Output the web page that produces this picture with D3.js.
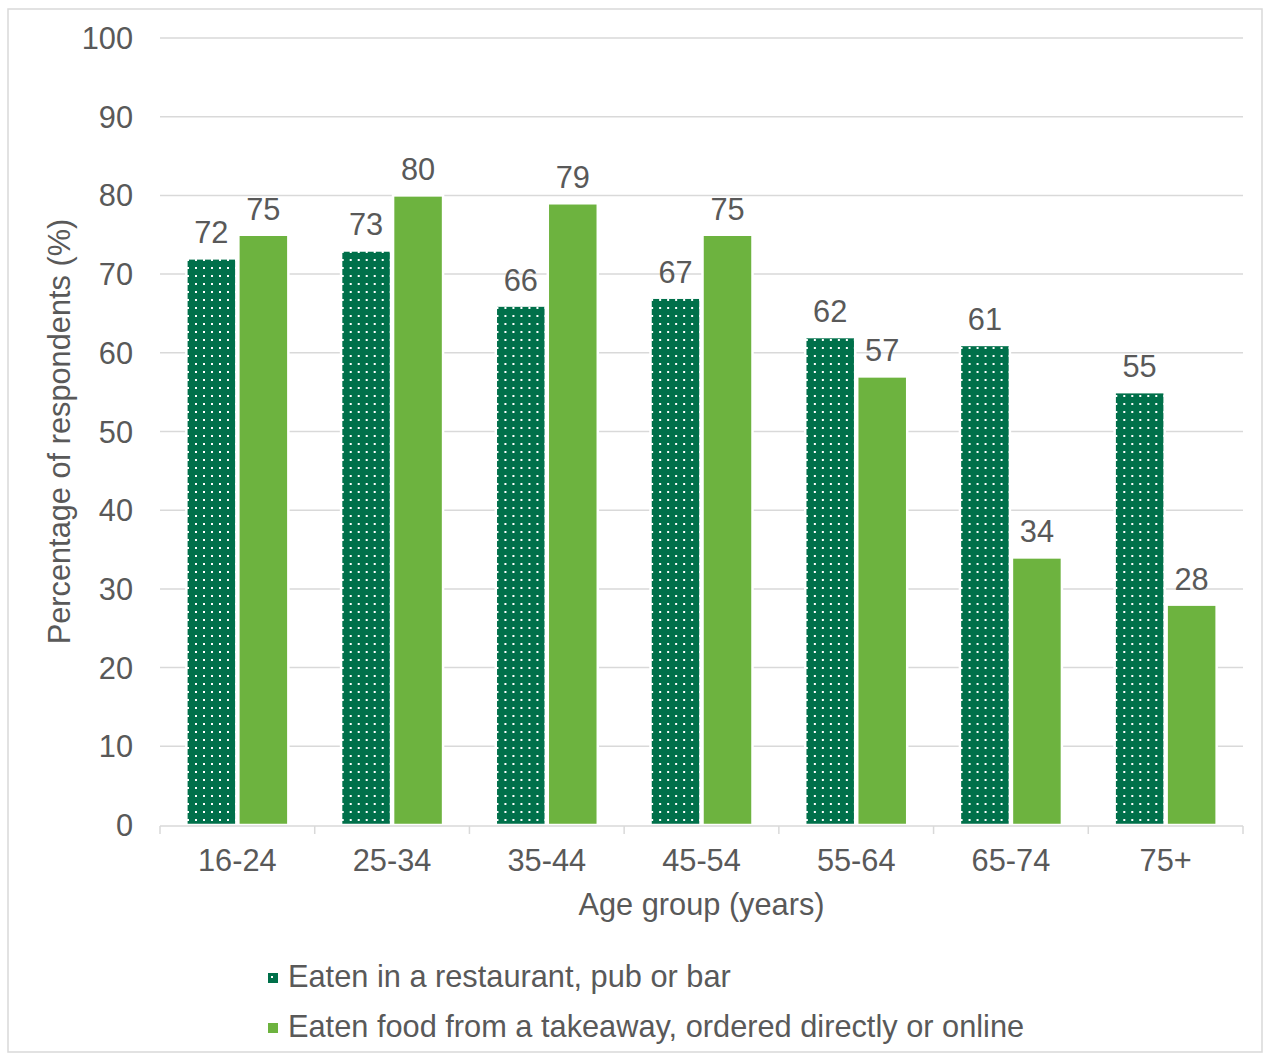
<!DOCTYPE html>
<html>
<head>
<meta charset="utf-8">
<script src="https://cdn.jsdelivr.net/npm/d3@7"></script>
<style>
  html, body { margin: 0; padding: 0; background: #fff; }
  svg { display: block; }
  text { font-family: "Liberation Sans", Arial, sans-serif; fill: #595959; }
</style>
</head>
<body>
<svg id="chart" width="1270" height="1059"></svg>
<script>
const categories = ["16-24", "25-34", "35-44", "45-54", "55-64", "65-74", "75+"];
const seriesNames = ["Eaten in a restaurant, pub or bar", "Eaten food from a takeaway, ordered directly or online"];
const restaurantValues = [72, 73, 66, 67, 62, 61, 55];
const takeawayValues = [75, 80, 79, 75, 57, 34, 28];
const yTicks = [0, 10, 20, 30, 40, 50, 60, 70, 80, 90, 100];

const seriesValues = [restaurantValues, takeawayValues];
const darkGreen = "#00704a";
const lightGreen = "#6db33f";
const FS = 30.75;

const svg = d3.select("#chart");
const plot = { left: 160, right: 1243, top: 38, bottom: 825 };

// outer border
svg.append("rect")
  .attr("x", 8).attr("y", 9).attr("width", 1254).attr("height", 1043)
  .attr("fill", "none").attr("stroke", "#d9d9d9").attr("stroke-width", 1.5);

// pattern
const defs = svg.append("defs");
const pat = defs.append("pattern")
  .attr("id", "dots").attr("patternUnits", "userSpaceOnUse")
  .attr("width", 8).attr("height", 8);
pat.append("rect").attr("width", 8).attr("height", 8).attr("fill", darkGreen);
pat.append("rect").attr("x", 3).attr("y", 3).attr("width", 2).attr("height", 2).attr("fill", "#ffffff");

const y = d3.scaleLinear().domain([0, 100]).range([plot.bottom, plot.top]);
const x0 = d3.scaleBand().domain(categories).range([plot.left, plot.right]).paddingInner(0).paddingOuter(0);
const x1 = d3.scaleBand().domain([0, 1]).range([0, x0.bandwidth()]).paddingInner(0.0385).paddingOuter(0.507);

// gridlines
svg.append("g")
  .selectAll("line").data(yTicks.filter(t => t > 0)).join("line")
  .attr("x1", plot.left).attr("x2", plot.right)
  .attr("y1", d => y(d)).attr("y2", d => y(d))
  .attr("stroke", "#d9d9d9").attr("stroke-width", 1.5);

// y tick labels
svg.append("g")
  .selectAll("text").data(yTicks).join("text")
  .attr("x", 133).attr("y", d => y(d)).attr("dy", "0.36em")
  .attr("text-anchor", "end").attr("font-size", FS)
  .text(d => d);

// bars
const groups = svg.append("g").selectAll("g").data(categories).join("g")
  .attr("transform", d => `translate(${x0(d)},0)`);

groups.selectAll("rect").data((d, i) => seriesValues.map((s, k) => ({ k, v: s[i] }))).join("rect")
  .attr("x", d => x1(d.k))
  .attr("width", x1.bandwidth())
  .attr("y", d => y(d.v))
  .attr("height", d => y(0) - y(d.v))
  .attr("fill", d => d.k === 0 ? "url(#dots)" : lightGreen)
  .attr("stroke", "#ffffff").attr("stroke-width", 2.5);

groups.selectAll("text").data((d, i) => seriesValues.map((s, k) => ({ k, v: s[i] }))).join("text")
  .attr("x", d => x1(d.k) + x1.bandwidth() / 2)
  .attr("y", d => y(d.v) - 15)
  .attr("text-anchor", "middle").attr("font-size", FS)
  .text(d => d.v);

// x axis
const xAxis = svg.append("g");
xAxis.append("line")
  .attr("x1", plot.left).attr("x2", plot.right)
  .attr("y1", plot.bottom + 1).attr("y2", plot.bottom + 1)
  .attr("stroke", "#d9d9d9").attr("stroke-width", 1.5);
const boundaries = categories.map(c => x0(c)).concat([plot.right]);
xAxis.selectAll("line.tick").data(boundaries).join("line")
  .attr("class", "tick")
  .attr("x1", d => d).attr("x2", d => d)
  .attr("y1", plot.bottom + 1).attr("y2", plot.bottom + 9)
  .attr("stroke", "#d9d9d9").attr("stroke-width", 1.5);
xAxis.selectAll("text").data(categories).join("text")
  .attr("x", d => x0(d) + x0.bandwidth() / 2)
  .attr("y", 871)
  .attr("text-anchor", "middle").attr("font-size", FS)
  .text(d => d);

// axis titles
svg.append("text")
  .attr("x", (plot.left + plot.right) / 2).attr("y", 915)
  .attr("text-anchor", "middle").attr("font-size", FS)
  .text("Age group (years)");
svg.append("text")
  .attr("transform", `translate(70, ${(plot.top + plot.bottom) / 2}) rotate(-90)`)
  .attr("text-anchor", "middle").attr("font-size", FS)
  .text("Percentage of respondents (%)");

// legend
const legend = svg.append("g").selectAll("g").data(seriesNames).join("g")
  .attr("transform", (d, i) => `translate(0, ${987 + i * 50})`);
legend.append("rect")
  .attr("x", 268).attr("y", -14).attr("width", 10).attr("height", 10)
  .attr("fill", (d, i) => i === 0 ? darkGreen : lightGreen);
legend.filter((d, i) => i === 0).append("rect")
  .attr("x", 271).attr("y", -11).attr("width", 2).attr("height", 2).attr("fill", "#fff");
legend.append("text")
  .attr("x", 288).attr("y", 0).attr("font-size", FS)
  .text(d => d);
</script>
</body>
</html>
